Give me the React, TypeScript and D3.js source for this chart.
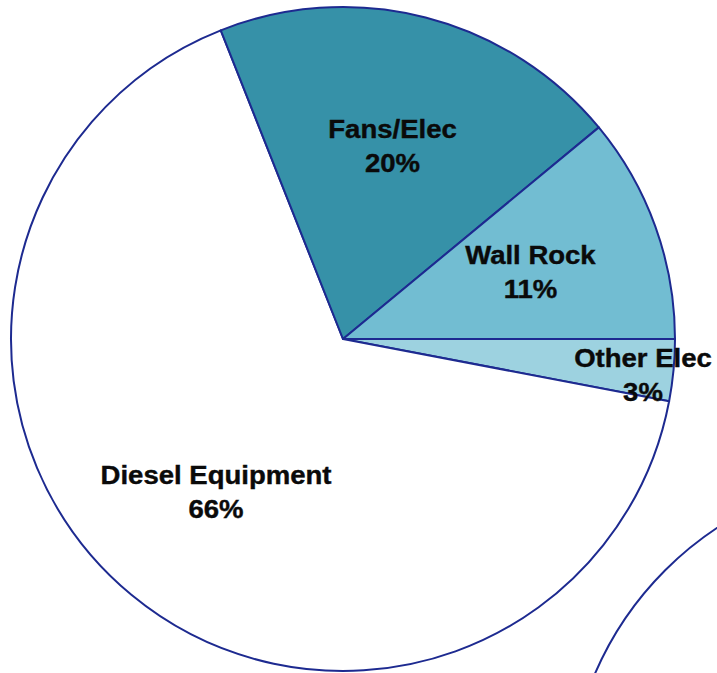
import React from "react";
import * as d3 from "d3";

// Energy use breakdown, in percent, listed clockwise from 3 o'clock
const categories: string[] = ["Other Elec", "Diesel Equipment", "Fans/Elec", "Wall Rock"];
const shares: number[] = [3, 66, 20, 11];
const sliceColors: string[] = ["#9dd2e0", "#ffffff", "#3691a8", "#72bdd2"];

const WIDTH = 717;
const HEIGHT = 673;
const CX = 343;
const CY = 339;
const R = 332;
const STROKE = "#1d2a90";

type Datum = { name: string; value: number; color: string };

const data: Datum[] = categories.map((name, i) => ({
  name,
  value: shares[i],
  color: sliceColors[i],
}));

export default function App() {
  const pie = d3
    .pie<Datum>()
    .sort(null)
    .value((d) => d.value)
    .startAngle(Math.PI / 2)
    .endAngle(Math.PI / 2 + 2 * Math.PI);

  const arcs = pie(data);
  const arcGen = d3.arc<d3.PieArcDatum<Datum>>().innerRadius(0).outerRadius(R);

  // Labels sit at 60% of the radius; thin slices push theirs out to the rim
  const labelPos = (a: d3.PieArcDatum<Datum>) => {
    const small = a.endAngle - a.startAngle < 0.05 * 2 * Math.PI;
    if (small) {
      const r = R * 0.91;
      const ang = a.startAngle + (a.endAngle - a.startAngle) * 0.63;
      return [r * Math.sin(ang), -r * Math.cos(ang)];
    }
    const r = R * 0.6;
    return d3.arc<d3.PieArcDatum<Datum>>().innerRadius(r).outerRadius(r).centroid(a);
  };

  // Neighbouring chart on the page, only its edge is in view
  const nextOutline = d3
    .arc<any>()
    .innerRadius(0)
    .outerRadius(R)
    .startAngle(0)
    .endAngle(2 * Math.PI)({} as any) as string;

  return (
    <svg
      width={WIDTH}
      height={HEIGHT}
      style={{ position: "absolute", left: 0, top: 0, background: "#fff" }}
    >
      <g transform={`translate(900,805)`}>
        <path d={nextOutline} fill="#fff" stroke={STROKE} strokeWidth={2} />
      </g>
      <g transform={`translate(${CX},${CY})`}>
        {arcs.map((a) => (
          <path
            key={a.data.name}
            d={arcGen(a) as string}
            fill={a.data.color}
            stroke={STROKE}
            strokeWidth={2}
            strokeLinejoin="round"
          />
        ))}
        {arcs.map((a) => {
          const [x, y] = labelPos(a);
          return (
            <g key={a.data.name + "-label"} transform={`translate(${x},${y}) scale(1.08,1)`}>
              <text
                textAnchor="middle"
                fontFamily="'Liberation Sans', Arial, Helvetica, sans-serif"
                fontWeight="bold"
                fontSize={25.5}
                fill="#0a0a0a"
                stroke="#0a0a0a"
                strokeWidth={0.4}
              >
                <tspan x={0} y={-8}>
                  {a.data.name}
                </tspan>
                <tspan x={0} y={26}>
                  {`${a.data.value}%`}
                </tspan>
              </text>
            </g>
          );
        })}
      </g>
    </svg>
  );
}
